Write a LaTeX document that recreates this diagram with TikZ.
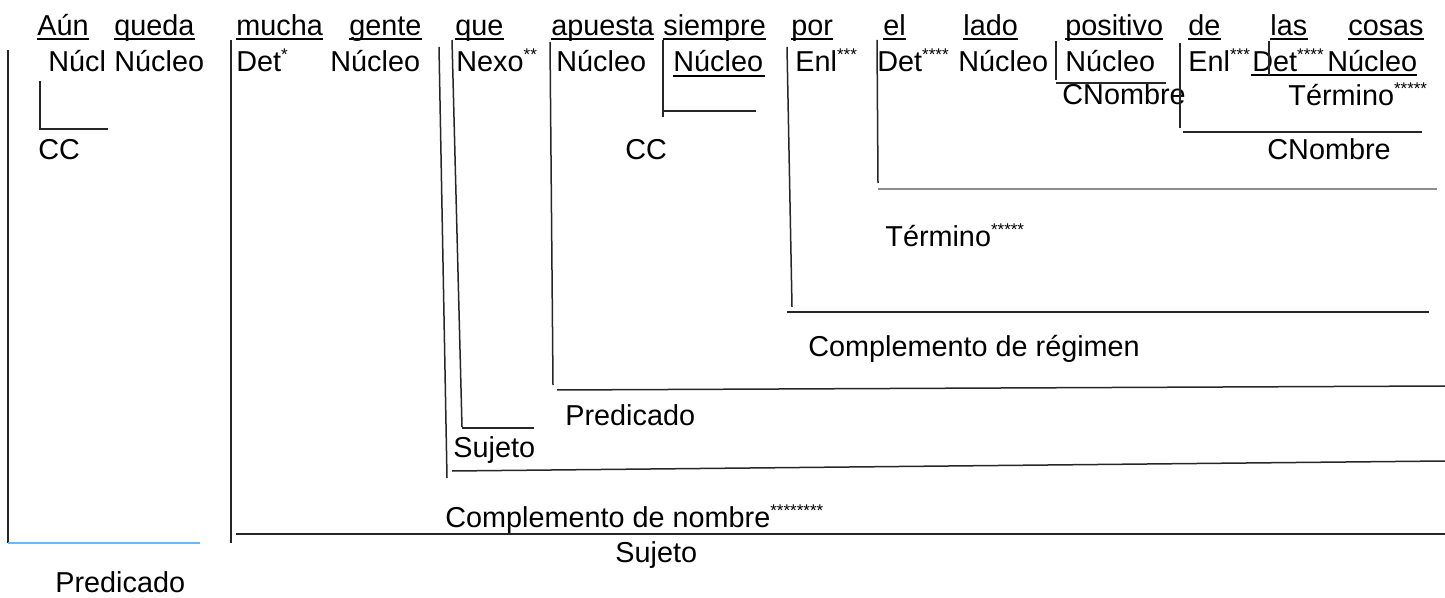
\documentclass[tikz,border=0pt]{standalone}
\usepackage{fontspec}
\setmainfont{Liberation Sans}
\newcommand\sups[1]{\raisebox{5.5pt}{\fontsize{8.5}{8.5}\selectfont #1}}
\begin{document}
\begin{tikzpicture}[x=0.5pt,y=-0.5pt,
  w/.style={anchor=base west,inner sep=0pt,font=\fontsize{14.4}{17}\selectfont},
  ln/.style={line width=0.75pt,draw=black!85},
  lt/.style={line width=0.75pt,draw=black!45},
  lb/.style={line width=0.75pt,draw=blue!45!cyan!60!white},
  ul/.style={line width=0.75pt,draw=black}]
\useasboundingbox (0,0) rectangle (1445,598);
% ---- row 1: sentence
\node[w] (a1) at (37,36) {Aún};
\node[w] (a2) at (114,36) {queda};
\node[w] (a3) at (236,36) {mucha};
\node[w] (a4) at (349,36) {gente};
\node[w] (a5) at (455,36) {que};
\node[w] (a6) at (551,36) {apuesta};
\node[w] (a7) at (663,36) {siempre};
\node[w] (a8) at (791,36) {por};
\node[w] (a9) at (883,36) {el};
\node[w] (a10) at (963,36) {lado};
\node[w] (a11) at (1065,36) {positivo};
\node[w] (a12) at (1188,36) {de};
\node[w] (a13) at (1270,36) {las};
\node[w] (a14) at (1348,36) {cosas};
\foreach \n in {a1,a2,a3,a4,a5,a6,a7,a8,a9,a10,a11,a12,a13,a14}
  \draw[ul] ([yshift=-1.6pt]\n.base west) -- ([yshift=-1.6pt]\n.base east);
% ---- row 2: functions
\node[w] (b1) at (48,72) {Núcl};
\node[w] (b2) at (114,72) {Núcleo};
\node[w] (b3) at (236,72) {Det\sups{*}};
\node[w] (b4) at (330,72) {Núcleo};
\node[w] (b5) at (456,72) {Nexo\sups{**}};
\node[w] (b6) at (556,72) {Núcleo};
\node[w] (b7) at (673,72) {Núcleo};
\node[w] (b8) at (795,72) {Enl\sups{***}};
\node[w] (b9) at (877,72) {Det\sups{****}};
\node[w] (b10) at (958,72) {Núcleo};
\node[w] (b11) at (1065,72) {Núcleo};
\node[w] (b12) at (1188,72) {Enl\sups{***}};
\node[w] (b13) at (1252,72) {Det\sups{****}};
\node[w] (b14) at (1327,72) {Núcleo};
\draw[ul] ([yshift=-2pt]b7.base west) -- ([yshift=-2pt,xshift=1pt]b7.base east);
\draw[ul] ([yshift=-1.6pt,xshift=-0.5pt]b13.base west) -- ([yshift=-1.6pt]b14.base east);
% ---- lower labels
\node[w] (c1) at (1062,105) {CNombre};
\node[w] (c2) at (1288,106) {Término\sups{*****}};
\node[w] (c3) at (38,160) {CC};
\node[w] (c4) at (625,160) {CC};
\node[w] (c5) at (1267,160) {CNombre};
\node[w] (c6) at (885,247) {Término\sups{*****}};
\node[w] (c7) at (808,357) {Complemento de régimen};
\node[w] (c8) at (565,425) {Predicado};
\node[w] (c9) at (453,458) {Sujeto};
\node[w] (c10) at (445,527) {Complemento de nombre\sups{********}};
\node[w] (c11) at (615,562) {Sujeto};
\node[w] (c12) at (55,592) {Predicado};
% ---- tree lines
\draw[ln] (8,50) -- (8,543);
\draw[lb] (8,543) -- (200,543);
\draw[ln] (40,81) -- (40,129) -- (108,129);
\draw[ln] (231,40) -- (231,543);
\draw[ln] (236,534) -- (1445,534);
\draw[ln] (439,47) -- (447,478);
\draw[ln] (452,40) -- (462,427);
\draw[ln] (462,428) -- (534,428);
\draw[ln] (452,471) -- (1445,461);
\draw[ln] (550,42) -- (553,385);
\draw[ln] (557,390) -- (1445,386);
\draw[ln] (663,40) -- (663,117);
\draw[ln] (663,111) -- (756,111);
\draw[ln] (787,47) -- (792,307);
\draw[ln] (787,312) -- (1429,312);
\draw[ln] (877,40) -- (878,183);
\draw[lt] (878,189) -- (1437,189);
\draw[ln] (1056,41) -- (1056,80);
\draw[ln] (1056,83) -- (1166,83);
\draw[ln] (1180,43) -- (1180,128);
\draw[ln] (1183,132) -- (1422,132);
\draw[ln] (1269,41) -- (1269,75);
\end{tikzpicture}
\end{document}
